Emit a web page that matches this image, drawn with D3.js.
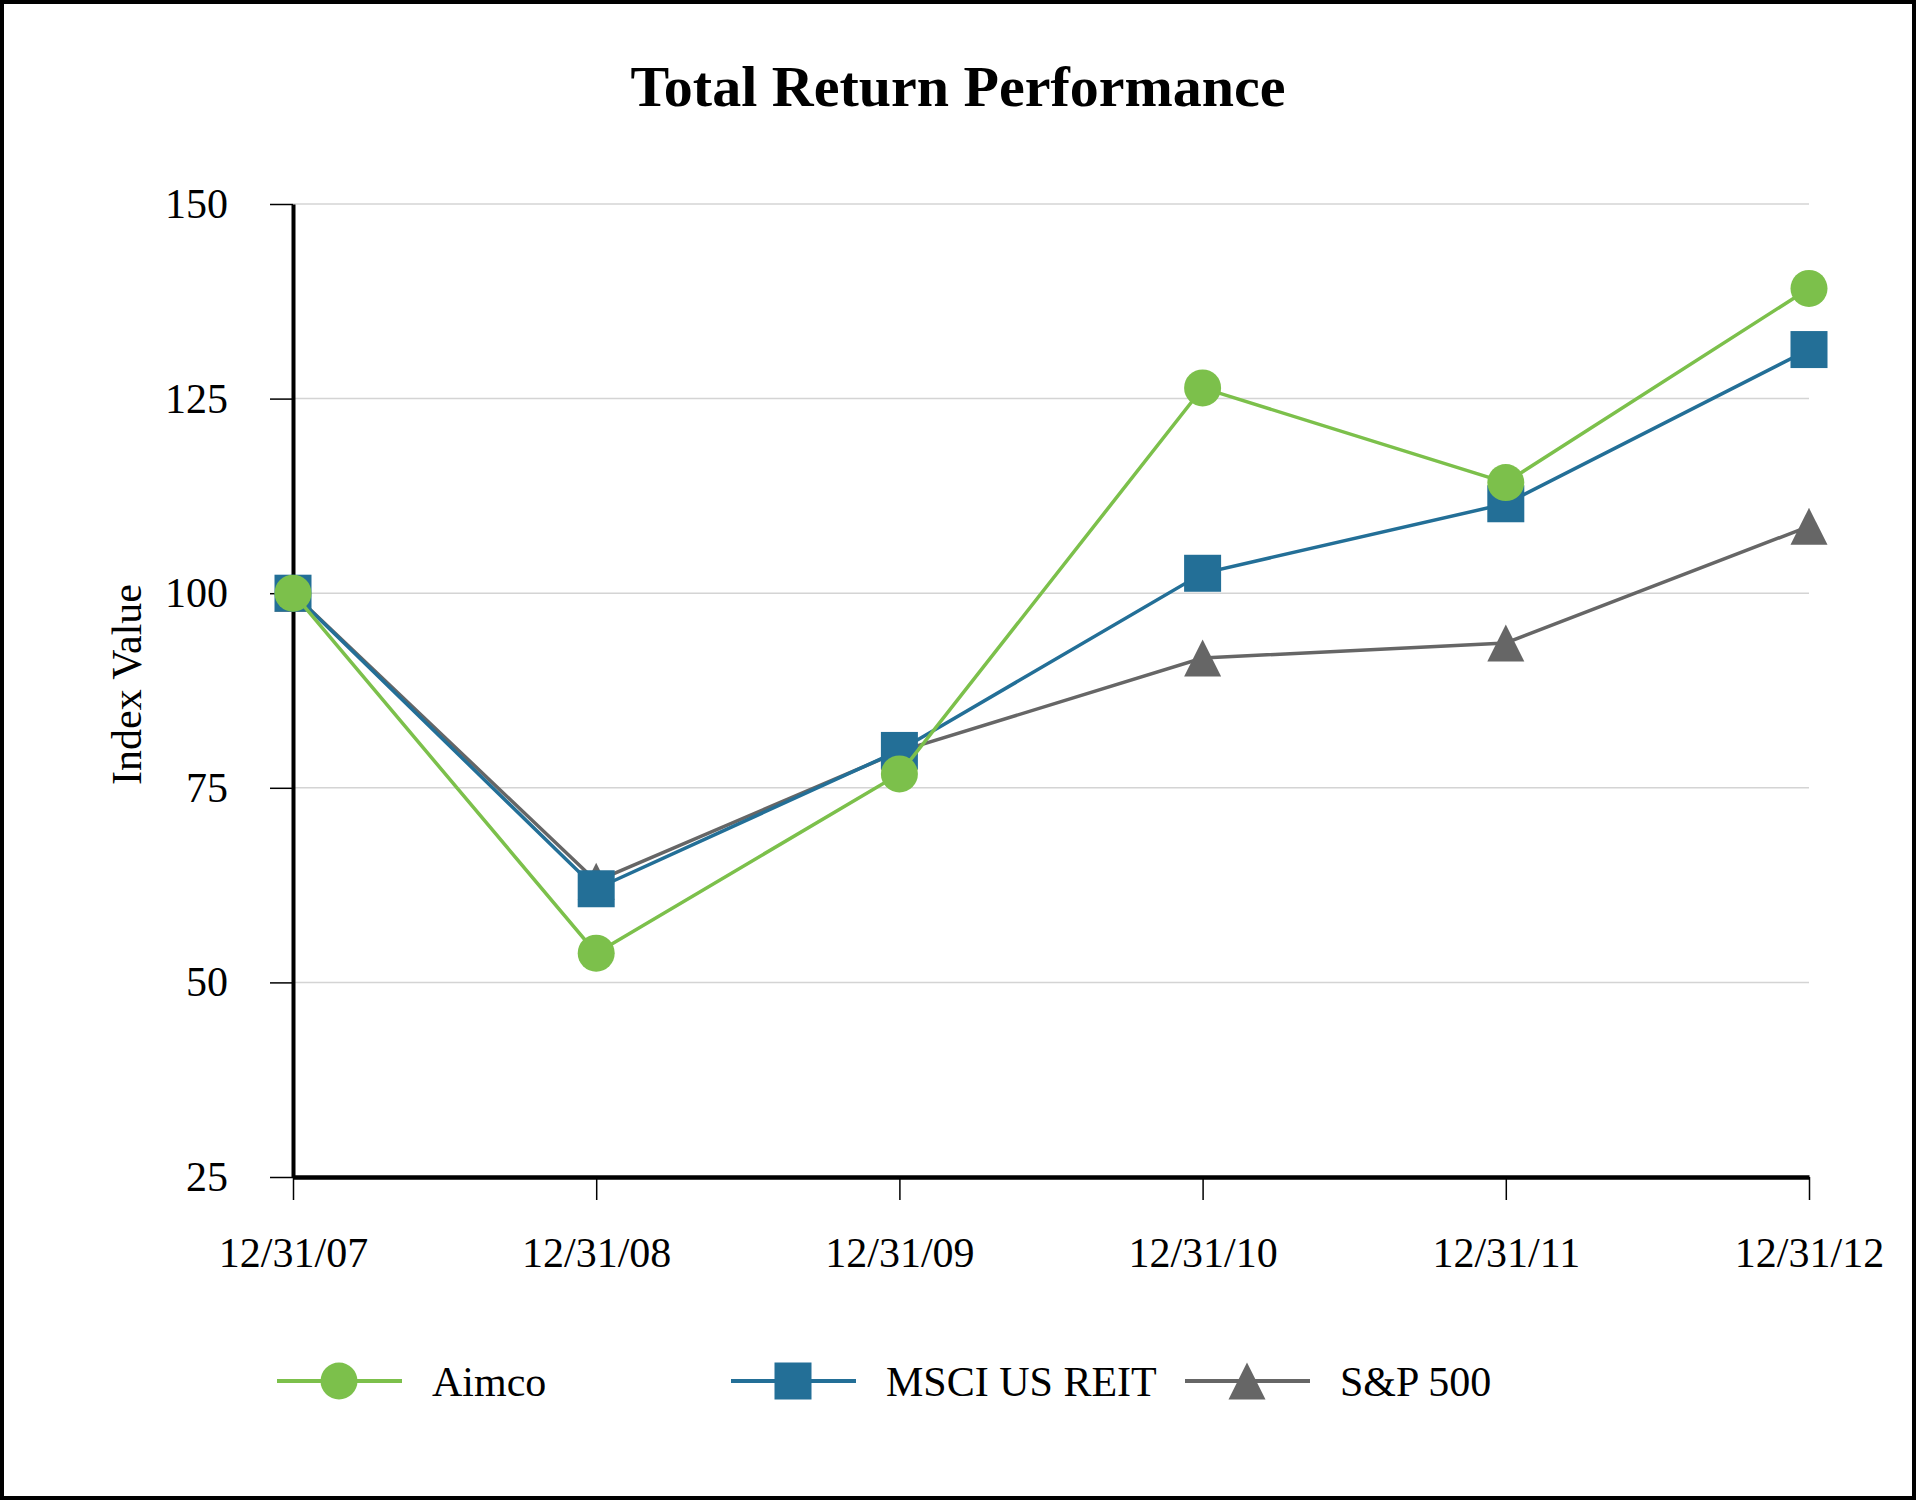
<!DOCTYPE html>
<html>
<head>
<meta charset="utf-8">
<script src="https://cdn.jsdelivr.net/npm/d3@7"></script>
<style>
  body { margin: 0; background: #fff; }
  svg { display: block; }
</style>
</head>
<body>
<div id="chart"></div>
<script>
// data
var dates = ["12/31/07", "12/31/08", "12/31/09", "12/31/10", "12/31/11", "12/31/12"];
var aimco = [100, 53.76, 76.78, 126.37, 114.21, 139.15];
var msci = [100, 62.03, 79.80, 102.56, 111.49, 131.30];
var sp500 = [100, 63.00, 79.67, 91.67, 93.61, 108.59];
var yTicks = [25, 50, 75, 100, 125, 150];

var seriesNames = ["Aimco", "MSCI US REIT", "S&P 500"];
var seriesColors = ["#7cc04b", "#236f97", "#666666"];
var seriesShapes = ["circle", "square", "triangle"];

// page size
var W = 1916, H = 1500;
var margin = {top: 204, right: 107, bottom: 323, left: 293},
    width = W - margin.left - margin.right,
    height = H - margin.top - margin.bottom;

var font = "'Liberation Serif', 'Times New Roman', serif";

var svg = d3.select("#chart")
    .append("svg")
    .attr("width", W)
    .attr("height", H);

// outer frame
svg.append("rect")
    .attr("x", 2).attr("y", 2)
    .attr("width", W - 4).attr("height", H - 4)
    .attr("fill", "#fff")
    .attr("stroke", "#000")
    .attr("stroke-width", 4);

// title
svg.append("text")
    .attr("x", W / 2)
    .attr("y", 106)
    .attr("text-anchor", "middle")
    .style("font-family", font)
    .style("font-weight", "bold")
    .style("font-size", "58px")
    .text("Total Return Performance");

var g = svg.append("g")
    .attr("transform", "translate(" + margin.left + "," + margin.top + ")");

var x = d3.scalePoint().domain(dates).range([0, width]);
var y = d3.scaleLinear().domain([25, 150]).range([height, 0]);

// gridlines
g.append("g")
    .selectAll("line")
    .data(yTicks.filter(function(d) { return d > 25; }))
    .enter()
    .append("line")
    .attr("x1", 0)
    .attr("x2", width)
    .attr("y1", function(d) { return y(d); })
    .attr("y2", function(d) { return y(d); })
    .attr("stroke", "#d4d4d4")
    .attr("stroke-width", 1.5);

// Y axis
var yAxis = g.append("g")
    .call(d3.axisLeft(y).tickValues(yTicks).tickSize(23).tickSizeOuter(0).tickPadding(42));
yAxis.select(".domain").attr("stroke-width", 4);
yAxis.selectAll(".tick line").attr("stroke-width", 1.5);
yAxis.selectAll("text")
    .style("font-family", font)
    .style("font-size", "42px")
    .attr("fill", "#000");

// X axis
var xAxis = g.append("g")
    .attr("transform", "translate(0," + height + ")")
    .call(d3.axisBottom(x).tickSize(23).tickSizeOuter(0).tickPadding(37));
xAxis.select(".domain").attr("stroke-width", 4.5);
xAxis.selectAll(".tick line").attr("stroke-width", 1.5);
xAxis.selectAll("text")
    .style("font-family", font)
    .style("font-size", "42px")
    .attr("fill", "#000");

// Y axis title
svg.append("text")
    .attr("transform", "translate(126," + (margin.top + height / 2 - 6) + ") rotate(-90)")
    .attr("text-anchor", "middle")
    .attr("dy", "0.35em")
    .style("font-family", font)
    .style("font-size", "42px")
    .text("Index Value");

// marker drawing
var S = 37;
function drawMarker(sel, shape, color) {
    if (shape === "circle") {
        sel.append("circle").attr("r", S / 2).attr("fill", color);
    } else if (shape === "square") {
        sel.append("rect").attr("x", -S / 2).attr("y", -S / 2)
            .attr("width", S).attr("height", S).attr("fill", color);
    } else {
        sel.append("path")
            .attr("d", "M0," + (-S / 2) + "L" + (S / 2) + "," + (S / 2) + "L" + (-S / 2) + "," + (S / 2) + "Z")
            .attr("fill", color);
    }
}

var allSeries = [aimco, msci, sp500];
var line = d3.line()
    .x(function(d, i) { return x(dates[i]); })
    .y(function(d) { return y(d); });

// draw S&P first, Aimco on top
[2, 1, 0].forEach(function(k) {
    var vals = allSeries[k];
    g.append("path")
        .datum(vals)
        .attr("d", line)
        .attr("fill", "none")
        .attr("stroke", seriesColors[k])
        .attr("stroke-width", 3.5);
    vals.forEach(function(v, i) {
        var m = g.append("g")
            .attr("transform", "translate(" + x(dates[i]) + "," + y(v) + ")");
        drawMarker(m, seriesShapes[k], seriesColors[k]);
    });
});

// legend
var legendY = 1381;
var legendX = [277, 731, 1185];
seriesNames.forEach(function(name, k) {
    var lg = svg.append("g").attr("transform", "translate(" + legendX[k] + "," + legendY + ")");
    lg.append("line")
        .attr("x1", 0).attr("x2", 125)
        .attr("stroke", seriesColors[k])
        .attr("stroke-width", 4);
    var m = lg.append("g").attr("transform", "translate(62,0)");
    drawMarker(m, seriesShapes[k], seriesColors[k]);
    lg.append("text")
        .attr("x", 155)
        .attr("dy", "0.35em")
        .style("font-family", font)
        .style("font-size", "42px")
        .text(name);
});
</script>
</body>
</html>
